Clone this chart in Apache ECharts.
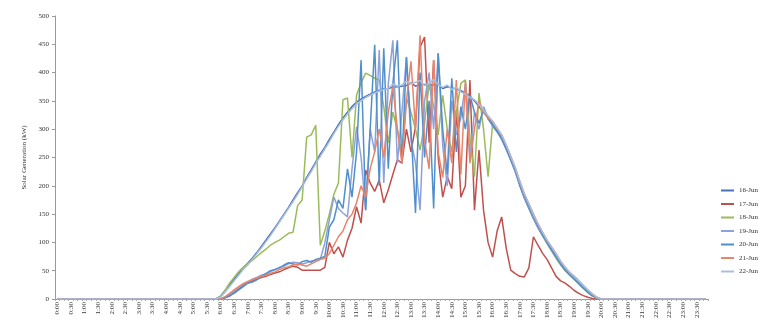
<!DOCTYPE html>
<html>
<head>
<meta charset="utf-8">
<script src="https://cdn.jsdelivr.net/npm/echarts@6/dist/echarts.min.js"></script>
<style>
  html, body { margin: 0; padding: 0; background: #fff; }
  #chart { width: 774px; height: 329px; }
</style>
</head>
<body>
<div id="chart"></div>
<script>
// 10-minute readings, 0:00 .. 23:50
const times = []
for (let h = 0; h < 24; h++) {
  for (let m = 0; m < 60; m += 10) {
    times.push(h + ':' + (m < 10 ? '0' + m : m))
  }
}

const seriesNames = ['16-Jun', '17-Jun', '18-Jun', '19-Jun', '20-Jun', '21-Jun', '22-Jun']

// night hours are zero; daytime values (kW)
const jun16 = [
  0,0,0,0,0,0,0,0,0,0,0,0,0,0,0,0,0,0, 0,0,0,0,0,0,0,0,0,0,0,0,0,0,0,0,0,0,
  5,15,25,35,45,55,63,72,82,93,
  104,115,126,138,150,162,175,188,200,215,
  228,242,256,268,282,295,308,320,330,340,
  348,353,358,362,366,369,371,372,374,375,
  376,377,382,376,379,379,378,378,380,372,
  375,373,371,368,364,358,350,340,330,320,
  310,298,285,266,245,225,200,178,160,142,
  126,112,100,88,75,62,52,45,38,30,
  22,14,7,2,0,
  0,0,0,0,0,0,0,0,0,0,0,0,0,0,0,0,0,0,0,0,0,0,0
]
const jun17 = [
  0,0,0,0,0,0,0,0,0,0,0,0,0,0,0,0,0,0, 0,0,0,0,0,0,0,0,0,0,0,0,0,0,0,0,0,0,
  0,2,5,12,18,24,28,32,35,38,
  40,43,46,48,52,55,58,56,51,51,
  51,51,51,56,100,80,92,74,104,125,
  163,134,228,205,190,210,170,193,220,246,
  240,300,260,304,445,463,276,422,250,180,
  216,195,334,180,200,387,157,263,157,100,
  74,120,145,90,51,45,40,39,55,110,
  95,81,70,55,40,32,28,22,15,10,
  6,3,1,0,0,
  0,0,0,0,0,0,0,0,0,0,0,0,0,0,0,0,0,0,0,0,0,0,0
]
const jun18 = [
  0,0,0,0,0,0,0,0,0,0,0,0,0,0,0,0,0,0, 0,0,0,0,0,0,0,0,0,0,0,0,0,0,0,0,0,0,
  5,15,28,38,48,56,62,68,75,82,
  88,95,100,104,110,116,118,165,175,286,
  290,307,95,120,150,185,205,352,355,250,
  360,382,399,395,390,387,340,276,330,300,
  250,355,330,300,263,310,380,340,290,360,
  300,260,330,381,387,286,216,364,300,216,
  310,300,288,266,248,228,205,182,163,145,
  128,112,98,85,72,60,50,42,35,27,
  19,11,5,1,0,
  0,0,0,0,0,0,0,0,0,0,0,0,0,0,0,0,0,0,0,0,0,0,0
]
const jun19 = [
  0,0,0,0,0,0,0,0,0,0,0,0,0,0,0,0,0,0, 0,0,0,0,0,0,0,0,0,0,0,0,0,0,0,0,0,0,
  0,3,8,14,20,26,30,35,38,42,
  44,48,52,56,58,62,65,64,62,64,
  67,68,70,99,140,180,160,152,145,230,
  304,250,157,300,260,440,205,380,457,240,
  330,428,280,240,157,350,400,300,434,270,
  200,350,290,320,380,250,330,300,340,320,
  305,295,282,264,246,226,204,180,162,144,
  128,113,99,86,74,62,52,44,36,28,
  20,12,6,2,0,
  0,0,0,0,0,0,0,0,0,0,0,0,0,0,0,0,0,0,0,0,0,0,0
]
const jun20 = [
  0,0,0,0,0,0,0,0,0,0,0,0,0,0,0,0,0,0, 0,0,0,0,0,0,0,0,0,0,0,0,0,0,0,0,0,0,
  0,2,6,10,16,22,28,30,34,40,
  45,50,52,55,60,64,62,60,66,68,
  65,70,72,75,127,140,175,160,230,180,
  260,422,157,300,449,200,443,230,380,457,
  240,427,300,152,400,250,350,160,434,300,
  220,390,260,340,300,360,330,310,335,318,
  308,296,283,266,247,228,206,183,164,147,
  130,114,100,87,74,62,51,43,35,27,
  19,12,6,2,0,
  0,0,0,0,0,0,0,0,0,0,0,0,0,0,0,0,0,0,0,0,0,0,0
]
const jun21 = [
  0,0,0,0,0,0,0,0,0,0,0,0,0,0,0,0,0,0, 0,0,0,0,0,0,0,0,0,0,0,0,0,0,0,0,0,0,
  0,4,10,16,22,27,31,34,37,40,
  42,45,48,52,55,57,60,62,60,58,
  62,66,70,72,80,95,110,120,140,150,
  170,200,180,230,260,300,250,330,375,300,
  240,350,420,300,466,280,230,422,260,215,
  300,240,387,220,385,240,300,350,330,320,
  314,302,290,272,252,232,208,186,168,150,
  133,118,104,92,80,67,56,47,40,32,
  24,16,9,3,0,
  0,0,0,0,0,0,0,0,0,0,0,0,0,0,0,0,0,0,0,0,0,0,0
]
const jun22 = [
  0,0,0,0,0,0,0,0,0,0,0,0,0,0,0,0,0,0, 0,0,0,0,0,0,0,0,0,0,0,0,0,0,0,0,0,0,
  3,12,22,32,42,52,60,70,80,90,
  101,112,124,136,148,160,172,185,198,212,
  225,239,252,265,278,292,305,316,327,336,
  344,350,356,360,364,367,370,372,380,376,
  378,385,380,383,386,377,381,388,379,374,
  378,370,374,366,362,356,352,344,334,324,
  314,302,290,272,252,232,208,186,168,150,
  133,118,104,92,80,67,56,47,40,32,
  24,16,9,3,0,
  0,0,0,0,0,0,0,0,0,0,0,0,0,0,0,0,0,0,0,0,0,0,0
]

const seriesData = [jun16, jun17, jun18, jun19, jun20, jun21, jun22]
const colors = ['#4A72B8', '#C0504D', '#9BBB59', '#8EA2DA', '#4F8FCC', '#E8846A', '#A9BEDF']

const chart = echarts.init(document.getElementById('chart'))
const serif = 'Liberation Serif'

const option = {
  animation: false,
  color: colors,
  grid: { left: 55, right: 66, top: 16, bottom: 30 },
  legend: {
    orient: 'vertical',
    left: 716,
    top: 181,
    icon: 'rect',
    itemWidth: 13,
    itemHeight: 2,
    itemGap: 4.5,
    textStyle: { fontFamily: serif, fontSize: 7, color: '#333', lineHeight: 9 },
    data: seriesNames
  },
  xAxis: {
    type: 'category',
    data: times,
    boundaryGap: true,
    axisLine: { lineStyle: { color: '#999', width: 1 } },
    axisTick: { show: true, interval: 0, length: 2, lineStyle: { color: '#aaa' } },
    axisLabel: {
      interval: 2,
      rotate: 90,
      margin: 3,
      fontFamily: serif,
      fontSize: 7,
      color: '#333'
    },
    splitLine: { show: false }
  },
  yAxis: {
    type: 'value',
    min: 0,
    max: 500,
    interval: 50,
    name: 'Solar Generation (kW)',
    nameLocation: 'middle',
    nameGap: 18,
    nameTextStyle: { fontFamily: serif, fontSize: 7, color: '#333' },
    axisLine: { show: true, lineStyle: { color: '#999', width: 1 } },
    axisTick: { show: true, length: 3, lineStyle: { color: '#999' } },
    axisLabel: { fontFamily: serif, fontSize: 7, color: '#333', margin: 6 },
    splitLine: { show: false }
  },
  series: seriesNames.map((name, k) => ({
    name: name,
    type: 'line',
    data: seriesData[k],
    symbol: 'none',
    lineStyle: { width: 1.5 }
  }))
}

chart.setOption(option)
</script>
</body>
</html>
